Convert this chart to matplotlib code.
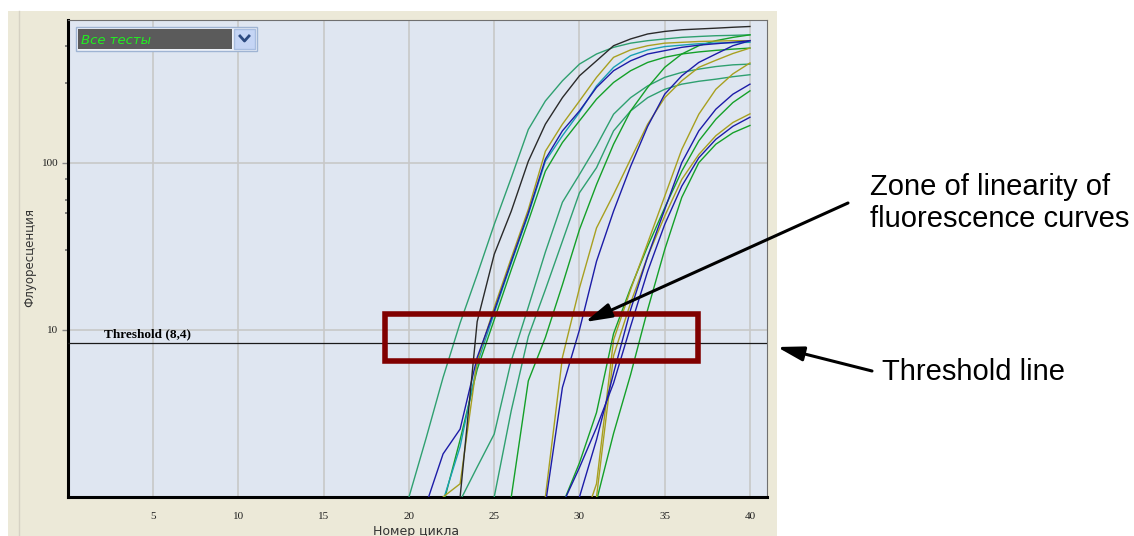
import matplotlib
matplotlib.use('Agg')
import matplotlib.pyplot as plt
from matplotlib.patches import Rectangle
from matplotlib.lines import Line2D
from matplotlib.ticker import NullFormatter, FixedLocator
import numpy as np

# ---------------- data (fluorescence per cycle) -------------
x_ticks = [5, 10, 15, 20, 25, 30, 35, 40]
y_ticks = [10, 100]
y_tick_labels = ['10', '100']
threshold = 8.4

# each curve: first cycle, values at consecutive integer cycles
t1_start = 19
t1 = [0.4, 1.0, 2.24, 5.19, 11.0, 21.4, 42.7, 81.3, 158, 234, 309, 389, 447, 490, 519, 537, 550, 562, 569, 575, 578, 582]
k1_start = 22
k1 = [0.5, 1.0, 11.2, 28.3, 51.3, 102, 170, 245, 331, 407, 501, 550, 589, 610, 624, 631, 638, 646, 653]
b1_start = 20
b1 = [0.5, 0.9, 1.81, 2.55, 6.84, 13.0, 25.7, 50.1, 105, 155, 204, 282, 355, 407, 447, 468, 490, 505, 515, 525, 537]
o1_start = 21
o1 = [0.6, 1.0, 1.2, 6.53, 13.6, 26.9, 52.5, 117, 170, 234, 324, 427, 473, 501, 519, 525, 531, 534, 537, 537]
c1_start = 21
c1 = [0.5, 0.95, 2.0, 6.24, 12.6, 25.1, 49.0, 102, 145, 200, 288, 372, 437, 473, 495, 505, 515, 520, 522, 525]
g1_start = 21
g1 = [0.5, 0.9, 2.2, 5.8, 11.5, 22.9, 44.7, 89, 132, 178, 240, 302, 355, 398, 427, 447, 460, 470, 478, 485]
t2_start = 22
t2 = [0.5, 0.95, 1.51, 2.38, 6.53, 13.7, 29.2, 58, 85, 126, 195, 245, 288, 324, 347, 363, 376, 385, 389]
t3_start = 24
t3 = [0.5, 1.0, 3.29, 9.12, 17.4, 33.9, 66.1, 93.3, 155, 204, 245, 275, 295, 307, 316, 327, 336]
g2_start = 25
g2 = [0.5, 1.0, 4.95, 9.0, 18.6, 39.8, 74, 129, 204, 282, 372, 447, 501, 537, 562, 582]
o2_start = 27
o2 = [0.5, 1.0, 6.84, 17.8, 40.7, 64.6, 105, 170, 245, 309, 372, 410, 450, 485]
b2_start = 27
b2 = [0.4, 0.9, 4.52, 10.0, 25.7, 51.3, 95, 165, 257, 331, 398, 447, 501, 537]
g3_start = 29
g3 = [0.9, 1.6, 3.2, 9.5, 17.8, 31.6, 53.7, 89, 135, 182, 229, 269]
o3_start = 30
o3 = [0.6, 1.2, 8.7, 17.4, 33.1, 63, 120, 195, 275, 340, 395]
o4_start = 30
o4 = [0.5, 1.0, 7.0, 14.5, 27.5, 47.9, 79.4, 112, 145, 174, 196]
b3_start = 29
b3 = [0.5, 1.0, 2.2, 5.5, 13.2, 27.5, 52.5, 100, 155, 209, 257, 295]
b4_start = 28
b4 = [0.5, 0.9, 1.5, 2.6, 4.8, 10.5, 22.4, 42.7, 72.4, 107, 138, 165, 187]
g4_start = 30
g4 = [0.5, 0.95, 2.4, 5.4, 13.2, 30.2, 62, 100, 129, 151, 167]

TEAL, BLACK, OLIVE, BLUE, GREEN, CYAN = '#2fa070', '#2a2a2a', '#a8a020', '#1c1ca8', '#14a028', '#1aa0b4'
curves = [
    (t1_start, t1, TEAL), (t2_start, t2, TEAL), (t3_start, t3, TEAL),
    (g1_start, g1, GREEN), (g2_start, g2, GREEN), (g3_start, g3, GREEN), (g4_start, g4, GREEN),
    (c1_start, c1, CYAN),
    (o1_start, o1, OLIVE), (o2_start, o2, OLIVE), (o3_start, o3, OLIVE), (o4_start, o4, OLIVE),
    (b1_start, b1, BLUE), (b2_start, b2, BLUE), (b3_start, b3, BLUE), (b4_start, b4, BLUE),
    (k1_start, k1, BLACK),
]

# ---------------- figure -------------
W, H = 1134, 536
fig = plt.figure(figsize=(W / 100, H / 100), dpi=100)
fig.patch.set_facecolor('white')

def fx(x):
    return x / W

def fy(y):
    return 1 - y / H

fig.add_artist(Rectangle((fx(8), 0), fx(777) - fx(8), fy(11), transform=fig.transFigure,
                         facecolor='#ece9d8', edgecolor='none', zorder=-5))
fig.add_artist(Line2D([fx(19), fx(19)], [0, fy(11)], transform=fig.transFigure,
                      color='#d6d2c4', lw=1, zorder=-4))

ax = fig.add_axes([fx(68), fy(497), fx(767) - fx(68), fy(20) - fy(497)])
ax.set_facecolor('#dfe6f1')
ax.set_yscale('log')
ax.set_xlim(0, 41)
ax.set_ylim(1, 714)

for start, vals, col in curves:
    cyc = np.arange(start, start + len(vals))
    ax.plot(cyc, vals, color=col, lw=1.0, zorder=3)

ax.axhline(threshold, color='#1a1a1a', lw=0.9, zorder=4)
ax.text(2.1, 9.05, 'Threshold (8,4)', family='Liberation Serif', fontweight='bold',
        fontsize=9.5, va='baseline', ha='left', zorder=5)

ax.set_xticks(x_ticks)
ax.set_xticklabels([str(v) for v in x_ticks], family='Liberation Serif', fontsize=8, color='#202020')
ax.yaxis.set_major_locator(FixedLocator(y_ticks))
ax.set_yticklabels(y_tick_labels, family='Liberation Serif', fontsize=8, color='#202020')
ax.yaxis.set_minor_locator(FixedLocator([30, 50, 60, 80, 300, 500]))
ax.yaxis.set_minor_formatter(NullFormatter())
ax.grid(True, which='major', color='#c8c8c8', lw=1.2, zorder=1)
ax.set_axisbelow(True)
ax.tick_params(axis='x', length=0, pad=11)
ax.tick_params(axis='y', which='major', length=4, width=1, color='#8a8a8a', pad=3)
ax.tick_params(axis='y', which='minor', length=2, width=1.2, color='#707070')
for s in ('left', 'bottom'):
    ax.spines[s].set_color('black')
    ax.spines[s].set_linewidth(2.2)
for s in ('top', 'right'):
    ax.spines[s].set_color('#707070')
    ax.spines[s].set_linewidth(0.8)

# zone box
ax.add_patch(Rectangle((18.62, 6.5), 36.96 - 18.62, 12.4 - 6.5, fill=False,
                       edgecolor='#800000', lw=4, zorder=6, clip_on=False))

# axis labels
fig.text(fx(30), fy(257), 'Флуоресценция', rotation=90, ha='center', va='center',
         fontsize=8.5, color='#333333', family='DejaVu Sans')
fig.text(fx(416), fy(531), 'Номер цикла', ha='center', va='center',
         fontsize=9, color='#333333', family='DejaVu Sans')

# dropdown widget
fig.add_artist(Rectangle((fx(76), fy(51)), fx(257) - fx(76), fy(27) - fy(51), transform=fig.transFigure,
                         facecolor='#eef2f9', edgecolor='#9fb4d3', lw=1, zorder=8))
fig.add_artist(Rectangle((fx(78), fy(49)), fx(232) - fx(78), fy(29) - fy(49), transform=fig.transFigure,
                         facecolor='#5b5b5b', edgecolor='none', zorder=9))
fig.add_artist(Rectangle((fx(234), fy(49)), fx(255) - fx(234), fy(29) - fy(49), transform=fig.transFigure,
                         facecolor='#c5d5f5', edgecolor='#a8bde0', lw=1, zorder=9))
fig.add_artist(Line2D([fx(240), fx(244.5), fx(249)], [fy(36), fy(41), fy(36)], transform=fig.transFigure,
                      color='#2c4a80', lw=2, zorder=10))
fig.text(fx(81), fy(40), 'Все тесты', color='#22ee22', fontstyle='italic', fontsize=9.5,
         family='DejaVu Sans', ha='left', va='center', zorder=10)

# annotations
arrow_kw = dict(arrowstyle='-|>,head_length=0.8,head_width=0.22', lw=2.2, color='black',
                shrinkA=0, shrinkB=0, mutation_scale=20)
ax.annotate('', xy=(585, H - 322), xycoords='figure pixels', xytext=(848, H - 203),
            textcoords='figure pixels', arrowprops=arrow_kw, annotation_clip=False, zorder=7)
ax.annotate('', xy=(777, H - 347), xycoords='figure pixels', xytext=(872, H - 371),
            textcoords='figure pixels', arrowprops=arrow_kw, annotation_clip=False, zorder=7)

fig.text(fx(870), fy(195), 'Zone of linearity of', family='Liberation Sans', fontsize=21, va='baseline')
fig.text(fx(870), fy(227), 'fluorescence curves', family='Liberation Sans', fontsize=21, va='baseline')
fig.text(fx(882), fy(380), 'Threshold line', family='Liberation Sans', fontsize=21, va='baseline')

fig.savefig('out.png', dpi=100)
